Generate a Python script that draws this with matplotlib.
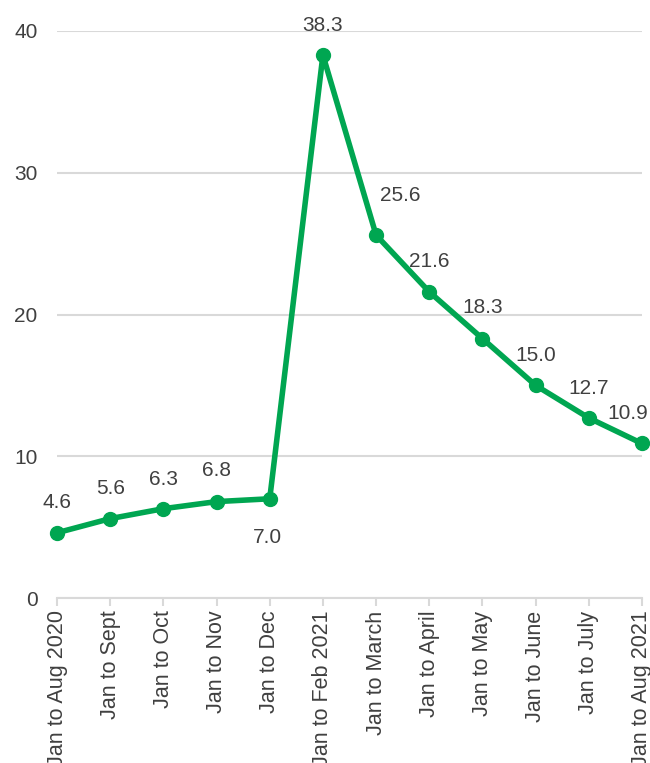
import matplotlib
matplotlib.use("Agg")
import matplotlib.pyplot as plt

plt.rcParams["font.family"] = ["Liberation Sans", "DejaVu Sans"]

periods = ["Jan to Aug 2020", "Jan to Sept", "Jan to Oct", "Jan to Nov", "Jan to Dec",
           "Jan to Feb 2021", "Jan to March", "Jan to April", "Jan to May", "Jan to June",
           "Jan to July", "Jan to Aug 2021"]
values = [4.6, 5.6, 6.3, 6.8, 7.0, 38.3, 25.6, 21.6, 18.3, 15.0, 12.7, 10.9]

# label offsets in pixels (dx, dy), Excel had a couple of them nudged
label_offsets = [(0, 30), (0, 30), (0, 29), (0, 31), (-2, -39), (0, 30),
                 (24, 40), (0, 30), (0, 31), (0, 30), (0, 29), (-14, 30)]

green = "#00A651"
text_grey = "#404040"
grid_grey = "#D9D9D9"

dpi = 100
fig = plt.figure(figsize=(6.5, 7.63), dpi=dpi)
ax = fig.add_axes([57 / 650, 165 / 763, 585 / 650, 567 / 763])

x = list(range(len(values)))
ax.plot(x, values, color=green, linewidth=4, marker="o", markersize=10,
        clip_on=False, zorder=3)

px = 72 / dpi
for xi, v, (dx, dy) in zip(x, values, label_offsets):
    ax.annotate(f"{v:.1f}", (xi, v), xytext=(dx * px, dy * px), textcoords="offset points",
                ha="center", va="center", fontsize=15, color=text_grey, zorder=4)

ax.set_xlim(0, len(values) - 1)
ax.set_ylim(0, 40)
ax.set_yticks([0, 10, 20, 30, 40])
ax.set_xticks(x)
ax.set_xticklabels(periods, rotation=90, va="top", ha="center")

ax.yaxis.grid(True, color=grid_grey, linewidth=1.5)
ax.set_axisbelow(True)
for side in ["top", "right", "left"]:
    ax.spines[side].set_visible(False)
ax.spines["bottom"].set_color(grid_grey)
ax.spines["bottom"].set_linewidth(1.5)

ax.tick_params(axis="y", length=0, pad=14, labelsize=15, labelcolor=text_grey)
ax.tick_params(axis="x", length=6, width=1.5, color=grid_grey, pad=3,
               labelsize=15.5, labelcolor=text_grey)

fig.savefig("out.png", dpi=dpi)
